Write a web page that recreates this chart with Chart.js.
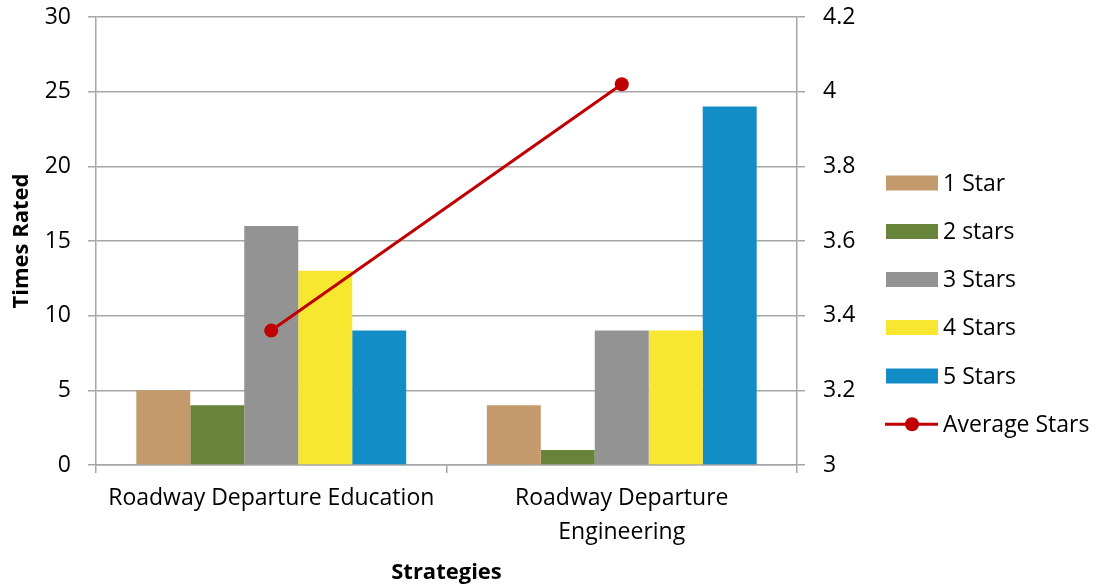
<!DOCTYPE html>
<html>
<head>
<meta charset="utf-8">
<script src="https://cdn.jsdelivr.net/npm/chart.js@4/dist/chart.umd.min.js"></script>
<style>
html,body{margin:0;padding:0;background:#fff;}
#wrap{position:relative;width:1096px;height:588px;}
</style>
</head>
<body>
<div id="wrap"><canvas id="c" width="1096" height="588"></canvas></div>
<script>
const categories = [["Roadway Departure Education"], ["Roadway Departure", "Engineering"]];
const seriesNames = ["1 Star", "2 stars", "3 Stars", "4 Stars", "5 Stars"];
const oneStar = [5, 4];
const twoStars = [4, 1];
const threeStars = [16, 9];
const fourStars = [13, 9];
const fiveStars = [9, 24];
const averageStars = [3.36, 4.02];
const leftTicks = [0, 5, 10, 15, 20, 25, 30];
const rightTicks = [3, 3.2, 3.4, 3.6, 3.8, 4, 4.2];

const colors = ["#C49A6C", "#68843A", "#939393", "#F7E731", "#138DC5"];
const lineColor = "#C00000";
const gridColor = "#A6A6A6";
const FONT = "'Open Sans', 'Liberation Sans', sans-serif";
const tickFont = {family: FONT, size: 23, lineHeight: 1.2};

const barSeries = [oneStar, twoStars, threeStars, fourStars, fiveStars];
const datasets = barSeries.map((d, i) => ({
  type: 'bar', label: seriesNames[i], data: d, backgroundColor: colors[i],
  yAxisID: 'y', order: 1, categoryPercentage: 0.77, barPercentage: 1.0, borderWidth: 0
}));
datasets.push({
  type: 'line', label: 'Average Stars', data: averageStars, yAxisID: 'y1', order: 0,
  borderColor: lineColor, backgroundColor: lineColor, borderWidth: 3,
  pointRadius: 7, pointHoverRadius: 7, pointBackgroundColor: lineColor, pointBorderWidth: 0, tension: 0
});

const legendPlugin = {
  id: 'customLegend',
  afterDraw(chart) {
    const ctx = chart.ctx;
    const x0 = 886, sw = 52, sh = 15, tx = 943;
    const ys = [183, 231.5, 279.5, 327.5, 376, 424.3];
    ctx.save();
    ctx.font = "23px " + FONT;
    ctx.textBaseline = 'middle';
    ctx.textAlign = 'left';
    chart.data.datasets.forEach((ds, i) => {
      const y = ys[i];
      if (ds.type === 'bar') {
        ctx.fillStyle = ds.backgroundColor;
        ctx.fillRect(x0, y - sh / 2, sw, sh);
      } else {
        ctx.strokeStyle = ds.borderColor;
        ctx.lineWidth = 3;
        ctx.beginPath(); ctx.moveTo(x0 - 1, y); ctx.lineTo(x0 + sw, y); ctx.stroke();
        ctx.fillStyle = ds.borderColor;
        ctx.beginPath(); ctx.arc(x0 + sw / 2, y, 7, 0, Math.PI * 2); ctx.fill();
      }
      ctx.fillStyle = '#000';
      ctx.fillText(ds.label, tx, y + 1);
    });
    ctx.restore();
  }
};

function fixV(width) {
  return function (s) { s.width = width; s.paddingTop = 0; s.paddingBottom = 0; };
}

new Chart(document.getElementById('c'), {
  data: { labels: categories, datasets },
  plugins: [legendPlugin],
  options: {
    responsive: false, animation: false,
    layout: { padding: { top: 17, left: 0, right: 0, bottom: 0 } },
    plugins: { legend: { display: false }, tooltip: { enabled: false } },
    scales: {
      x: {
        offset: true,
        grid: { offset: true, drawOnChartArea: false, drawTicks: true, tickLength: 8, color: gridColor, lineWidth: 1.5 },
        border: { color: gridColor, width: 1.5 },
        ticks: { font: { ...tickFont, lineHeight: 1.45 }, color: '#000', padding: 9, maxRotation: 0, autoSkip: false },
        title: { display: true, text: 'Strategies', font: { family: FONT, size: 22, weight: 'bold', lineHeight: 1.2 }, color: '#000', padding: { top: 0, bottom: 2 } },
        afterFit(s) { s.height = 123; s.paddingLeft = 0; s.paddingRight = 0; }
      },
      y: {
        position: 'left', min: 0, max: 30,
        afterBuildTicks(s) { s.ticks = leftTicks.map(v => ({ value: v })); },
        grid: { color: gridColor, lineWidth: 1.5, tickLength: 8 },
        border: { color: gridColor, width: 1.5 },
        ticks: { font: tickFont, color: '#000', padding: 17 },
        title: { display: true, text: 'Times Rated', font: { family: FONT, size: 22, weight: 'bold', lineHeight: 1.2 }, color: '#000', padding: { top: 9, bottom: 0 } },
        afterFit: fixV(96)
      },
      y1: {
        position: 'right', min: 3, max: 4.2,
        afterBuildTicks(s) { s.ticks = rightTicks.map(v => ({ value: v })); },
        grid: { drawOnChartArea: false, color: gridColor, lineWidth: 1.5, tickLength: 8 },
        border: { color: gridColor, width: 1.5 },
        ticks: { font: tickFont, color: '#000', padding: 18, callback: v => String(Math.round(v * 10) / 10) },
        afterFit: fixV(299)
      }
    }
  }
});
</script>
</body>
</html>
